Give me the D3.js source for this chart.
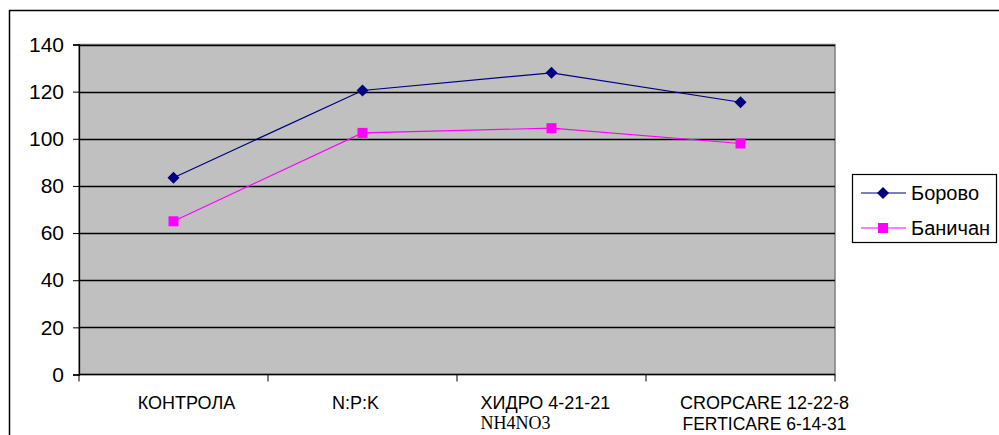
<!DOCTYPE html>
<html>
<head>
<meta charset="utf-8">
<script src="https://cdn.jsdelivr.net/npm/d3@7/dist/d3.min.js"></script>
<style>
  html, body { margin: 0; padding: 0; background: #fff; }
  svg { display: block; font-family: "Liberation Sans", Arial, sans-serif; }
</style>
</head>
<body>
<svg id="chart" width="999" height="435"></svg>
<script>
// data
const categories = ['КОНТРОЛА', 'N:P:K', 'ХИДРО 4-21-21', 'CROPCARE 12-22-8'];
const subLabels = ['', '', 'NH4NO3', 'FERTICARE 6-14-31'];
const borovo = [83.5, 120.5, 128, 115.5];
const banichan = [65, 102.5, 104.5, 98];
const yTicks = [0, 20, 40, 60, 80, 100, 120, 140];

// label nudges, px (the original's labels aren't exactly centred)
const labelDx = [13, -7, -6, 24];

const series = [
  { name: 'Борово', values: borovo, color: '#000080', marker: 'diamond' },
  { name: 'Баничан', values: banichan, color: '#ff00ff', marker: 'square' },
];

const W = 999, H = 435;
const plot = { left: 79, right: 835, top: 44.5, bottom: 374.5 };

const svg = d3.select('#chart');

// outer chart border (top + left only visible)
svg.append('path')
  .attr('d', `M9.5,${H} V10.5 H${W}`)
  .attr('fill', 'none').attr('stroke', '#000').attr('stroke-width', 1.5);

const x = d3.scaleBand().domain(categories).range([plot.left, plot.right]);
const y = d3.scaleLinear().domain([0, 140]).range([plot.bottom, plot.top]);

// plot area
svg.append('rect')
  .attr('x', plot.left).attr('y', plot.top)
  .attr('width', plot.right - plot.left).attr('height', plot.bottom - plot.top)
  .attr('fill', '#c0c0c0').attr('stroke', '#808080').attr('stroke-width', 1.5);

// gridlines
svg.append('g').selectAll('line').data(yTicks.filter(t => t > 0)).enter().append('line')
  .attr('x1', plot.left).attr('x2', plot.right)
  .attr('y1', d => Math.round(y(d)) + 0.5).attr('y2', d => Math.round(y(d)) + 0.5)
  .attr('stroke', '#000').attr('stroke-width', 1.3);

// y axis
const yAxis = svg.append('g').attr('transform', `translate(${plot.left},0)`)
  .call(d3.axisLeft(y).tickValues(yTicks).tickSize(6).tickPadding(9));
yAxis.select('.domain').attr('stroke', '#000').attr('stroke-width', 1.3);
yAxis.selectAll('.tick line').attr('stroke', '#000');
yAxis.selectAll('.tick text')
  .attr('font-size', 21).attr('fill', '#000')
  .attr('font-family', '"Liberation Sans", Arial, sans-serif');

// x axis (line + ticks at band edges)
const xg = svg.append('g');
xg.append('line')
  .attr('x1', plot.left).attr('x2', plot.right)
  .attr('y1', plot.bottom).attr('y2', plot.bottom)
  .attr('stroke', '#000').attr('stroke-width', 1.3);
const edges = categories.map(c => x(c)).concat([x.range()[1]]);
xg.selectAll('line.tk').data(edges).enter().append('line')
  .attr('class', 'tk')
  .attr('x1', d => d).attr('x2', d => d)
  .attr('y1', plot.bottom).attr('y2', plot.bottom + 7)
  .attr('stroke', '#000');

// category labels
categories.forEach((c, i) => {
  const cx = x(c) + x.bandwidth() / 2 + labelDx[i];
  const t = xg.append('text')
    .attr('x', cx).attr('y', 409)
    .attr('text-anchor', 'middle')
    .attr('font-size', 18).attr('fill', '#000')
    .text(c);
  if (subLabels[i]) {
    const w = t.node().getComputedTextLength();
    const serif = subLabels[i] === 'NH4NO3';
    xg.append('text')
      .attr('x', serif ? cx - w / 2 : cx).attr('y', serif ? 429 : 430)
      .attr('text-anchor', serif ? 'start' : 'middle')
      .attr('font-size', serif ? 18 : 17.5)
      .attr('font-family', serif ? '"Liberation Serif", "Times New Roman", serif' : null)
      .attr('fill', '#000')
      .text(subLabels[i]);
  }
});

// lines + markers
const line = d3.line()
  .x((d, i) => x(categories[i]) + x.bandwidth() / 2)
  .y(d => y(d));

const drawMarker = (g, type, cx, cy, color) => {
  if (type === 'diamond') {
    g.append('path')
      .attr('d', `M${cx},${cy - 6} L${cx + 6},${cy} L${cx},${cy + 6} L${cx - 6},${cy} Z`)
      .attr('fill', color);
  } else {
    g.append('rect')
      .attr('x', cx - 5).attr('y', cy - 5).attr('width', 10).attr('height', 10)
      .attr('fill', color);
  }
};

series.forEach(s => {
  const g = svg.append('g');
  g.append('path').datum(s.values)
    .attr('d', line).attr('fill', 'none')
    .attr('stroke', s.color).attr('stroke-width', 1.2);
  s.values.forEach((v, i) => {
    drawMarker(g, s.marker, x(categories[i]) + x.bandwidth() / 2, y(v), s.color);
  });
});

// legend
const lg = svg.append('g');
lg.append('rect')
  .attr('x', 852.5).attr('y', 174.5).attr('width', 144).attr('height', 68)
  .attr('fill', '#fff').attr('stroke', '#000').attr('stroke-width', 1.2);
series.forEach((s, i) => {
  const ly = 193 + i * 35;
  lg.append('line')
    .attr('x1', 861).attr('x2', 906).attr('y1', ly).attr('y2', ly)
    .attr('stroke', s.color).attr('stroke-width', 1.2);
  drawMarker(lg, s.marker, 883, ly, s.color);
  lg.append('text')
    .attr('x', 911).attr('y', ly + 7)
    .attr('font-size', 20).attr('fill', '#000')
    .text(s.name);
});
</script>
</body>
</html>
